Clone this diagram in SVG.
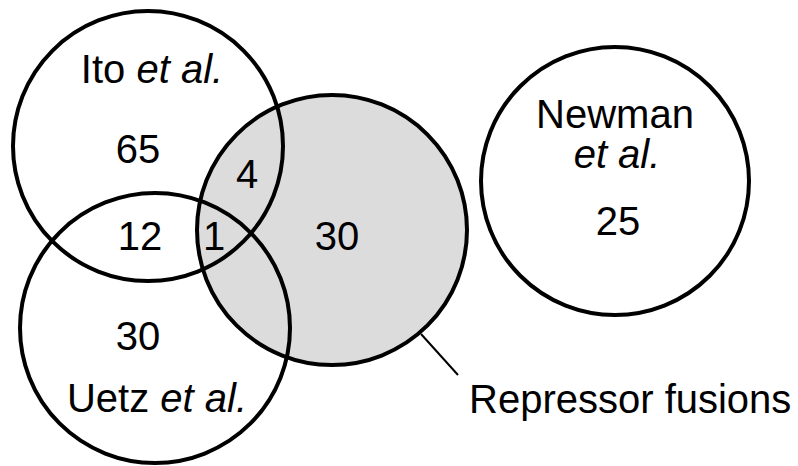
<svg xmlns="http://www.w3.org/2000/svg" width="798" height="466" viewBox="0 0 798 466">
<style>
.c{fill:none;stroke:#000;stroke-width:4}
.t{font-family:"Liberation Sans",Arial,Helvetica,sans-serif;font-size:40px;fill:#000;text-anchor:middle}
.i{font-style:italic}
</style>
<rect width="798" height="466" fill="#fff"/>
<g id="repressor">
<circle cx="332" cy="230" r="135" fill="#dcdcdc" stroke="#000" stroke-width="4"/>
<text class="t" x="337" y="250">30</text>
</g>
<g id="ito">
<circle class="c" cx="148" cy="146" r="135"/>
<text class="t" x="152" y="83">Ito <tspan class="i">et al.</tspan></text>
<text class="t" x="138" y="163">65</text>
</g>
<g id="uetz">
<circle class="c" cx="155" cy="328" r="135"/>
<text class="t" x="138" y="350">30</text>
<text class="t" x="157" y="412">Uetz <tspan class="i">et al.</tspan></text>
</g>
<g id="overlaps">
<text class="t" x="247" y="188">4</text>
<text class="t" x="140" y="250">12</text>
<text class="t" x="214" y="250">1</text>
</g>
<g id="newman">
<circle class="c" cx="615" cy="181" r="134"/>
<text class="t" x="615" y="128">Newman</text>
<text class="t i" x="617" y="168">et al.</text>
<text class="t" x="618" y="235">25</text>
</g>
<g id="connectors">
<line x1="421" y1="334" x2="458" y2="375" stroke="#000" stroke-width="2"/>
</g>
<g id="label">
<text class="t" x="469" y="413" style="text-anchor:start">Repressor fusions</text>
</g>
</svg>
